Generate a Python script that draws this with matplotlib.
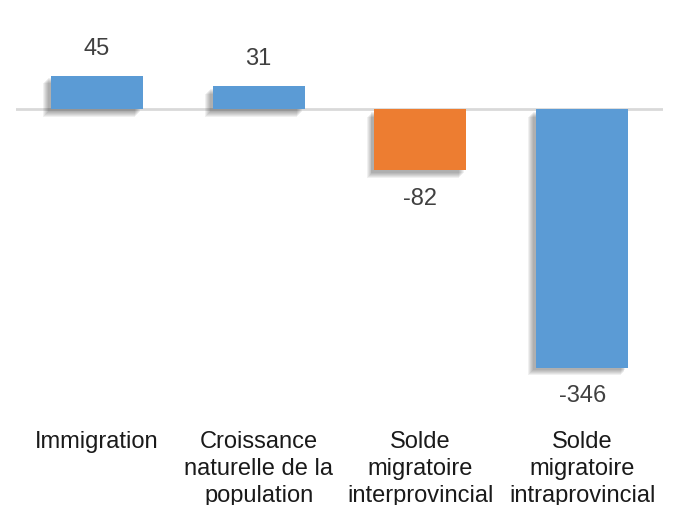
import matplotlib
matplotlib.use("Agg")
from matplotlib import pyplot as plt
import matplotlib.patheffects as pe

categories = ["Immigration", "Croissance\nnaturelle de la\npopulation",
              "Solde\nmigratoire\ninterprovincial", "Solde\nmigratoire\nintraprovincial"]
values = [45, 31, -82, -346]
colors = ["#5b9bd5", "#5b9bd5", "#ed7d31", "#5b9bd5"]

plt.rcParams["font.family"] = ["Liberation Sans", "DejaVu Sans"]

fig = plt.figure(figsize=(6.84, 5.06), dpi=100)
# axes from x=16..663 px, y=20..420 px (from top)
ax = fig.add_axes([16 / 684, 1 - 420 / 506, 647 / 684, 400 / 506])

# soft drop shadow made of a few stacked offset shadows
shadow = [pe.SimplePatchShadow(offset=(-2 - i * 0.7, -2 - i * 0.7), shadow_rgbFace="#000000", alpha=0.06)
          for i in range(6)]
bars = ax.bar(range(len(values)), values, width=0.57, color=colors, zorder=3,
              path_effects=shadow + [pe.Normal()])

ax.axhline(0, color="#d9d9d9", lw=2, zorder=2)
ax.bar_label(bars, labels=[str(v) for v in values], padding=12, fontsize=17, color="#404040")

ax.set_xlim(-0.5, 3.5)
ax.set_ylim(-415, 121)
ax.set_xticks(range(len(categories)))
ax.set_xticklabels(categories, fontsize=17, color="#1a1a1a", linespacing=1.28)
ax.tick_params(axis="x", length=0, pad=8)
ax.set_yticks([])
for s in ax.spines.values():
    s.set_visible(False)

fig.savefig("out.png", dpi=100)
